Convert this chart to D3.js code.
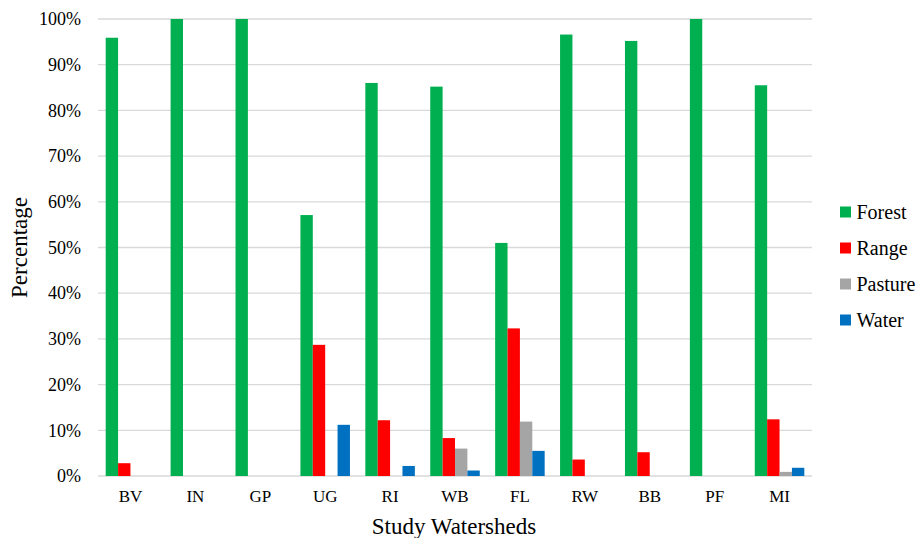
<!DOCTYPE html>
<html>
<head>
<meta charset="utf-8">
<script src="https://cdn.jsdelivr.net/npm/d3@7"></script>
<style>
  body { margin: 0; background: #fff; }
  svg { display: block; }
</style>
</head>
<body>
<svg id="chart" width="917" height="538"></svg>
<script>
// Land-use share per study watershed
const watersheds = ["BV", "IN", "GP", "UG", "RI", "WB", "FL", "RW", "BB", "PF", "MI"];
const seriesNames = ["Forest", "Range", "Pasture", "Water"];
const forest  = [95.9, 100, 100, 57.1, 86.0, 85.2, 51.0, 96.6, 95.2, 100, 85.5];
const range   = [2.8, 0, 0, 28.7, 12.2, 8.3, 32.3, 3.6, 5.2, 0, 12.4];
const pasture = [0, 0, 0, 0, 0, 6.0, 11.9, 0, 0, 0, 0.9];
const water   = [0, 0, 0, 11.2, 2.2, 1.2, 5.5, 0, 0, 0, 1.8];
const yTicks = [0, 10, 20, 30, 40, 50, 60, 70, 80, 90, 100];
const colors = ["#00b050", "#ff0000", "#a5a5a5", "#0070c0"];

const FONT = "'Liberation Serif', 'Times New Roman', serif";
const values = [forest, range, pasture, water];
const svg = d3.select("#chart");
const m = { left: 98, right: 812, top: 19, bottom: 476 };

const x = d3.scaleBand().domain(watersheds).range([m.left, m.right]).paddingInner(0.237).paddingOuter(0.1185);
const xs = d3.scaleBand().domain(seriesNames).range([0, x.bandwidth()]);
const y = d3.scaleLinear().domain([0, 100]).range([m.bottom, m.top]);

// horizontal gridlines
svg.append("g")
  .selectAll("line").data(yTicks).join("line")
  .attr("x1", m.left).attr("x2", m.right)
  .attr("y1", d => y(d)).attr("y2", d => y(d))
  .attr("stroke", "#d9d9d9").attr("stroke-width", 1.3);

// y axis labels
const yAxis = d3.axisLeft(y).tickValues(yTicks).tickFormat(d => d + "%").tickSize(0).tickPadding(17);
const yg = svg.append("g").attr("transform", `translate(${m.left},0)`).call(yAxis)
  .attr("font-family", FONT).attr("font-size", 18);
yg.select(".domain").remove();
yg.selectAll("text").attr("fill", "#000");

// bars
const groups = svg.append("g").selectAll("g").data(watersheds).join("g")
  .attr("transform", d => `translate(${x(d)},0)`);
groups.selectAll("rect")
  .data((d, i) => seriesNames.map((s, k) => ({ s, k, v: values[k][i] })).filter(o => o.v > 0))
  .join("rect")
  .attr("x", o => xs(o.s))
  .attr("width", xs.bandwidth())
  .attr("y", o => y(o.v))
  .attr("height", o => y(0) - y(o.v))
  .attr("fill", o => colors[o.k]);

// x axis labels
const xAxis = d3.axisBottom(x).tickSize(0).tickPadding(14);
const xg = svg.append("g").attr("transform", `translate(0,${m.bottom})`).call(xAxis)
  .attr("font-family", FONT).attr("font-size", 17);
xg.select(".domain").remove();
xg.selectAll("text").attr("fill", "#000");

// axis titles
svg.append("text").attr("x", 454).attr("y", 534).attr("text-anchor", "middle")
  .attr("font-family", FONT).attr("font-size", 23).attr("fill", "#000").text("Study Watersheds");
svg.append("text").attr("transform", "translate(27,247.5) rotate(-90)").attr("text-anchor", "middle")
  .attr("font-family", FONT).attr("font-size", 23).attr("fill", "#000").text("Percentage");

// legend
const lg = svg.append("g").selectAll("g").data(seriesNames).join("g")
  .attr("transform", (d, i) => `translate(840,${212 + i * 36})`);
lg.append("rect").attr("x", 0).attr("y", -5.5).attr("width", 11).attr("height", 11)
  .attr("fill", (d, i) => colors[i]);
lg.append("text").attr("x", 16.5).attr("y", 6.5)
  .attr("font-family", FONT).attr("font-size", 20).attr("fill", "#000").text(d => d);
</script>
</body>
</html>
